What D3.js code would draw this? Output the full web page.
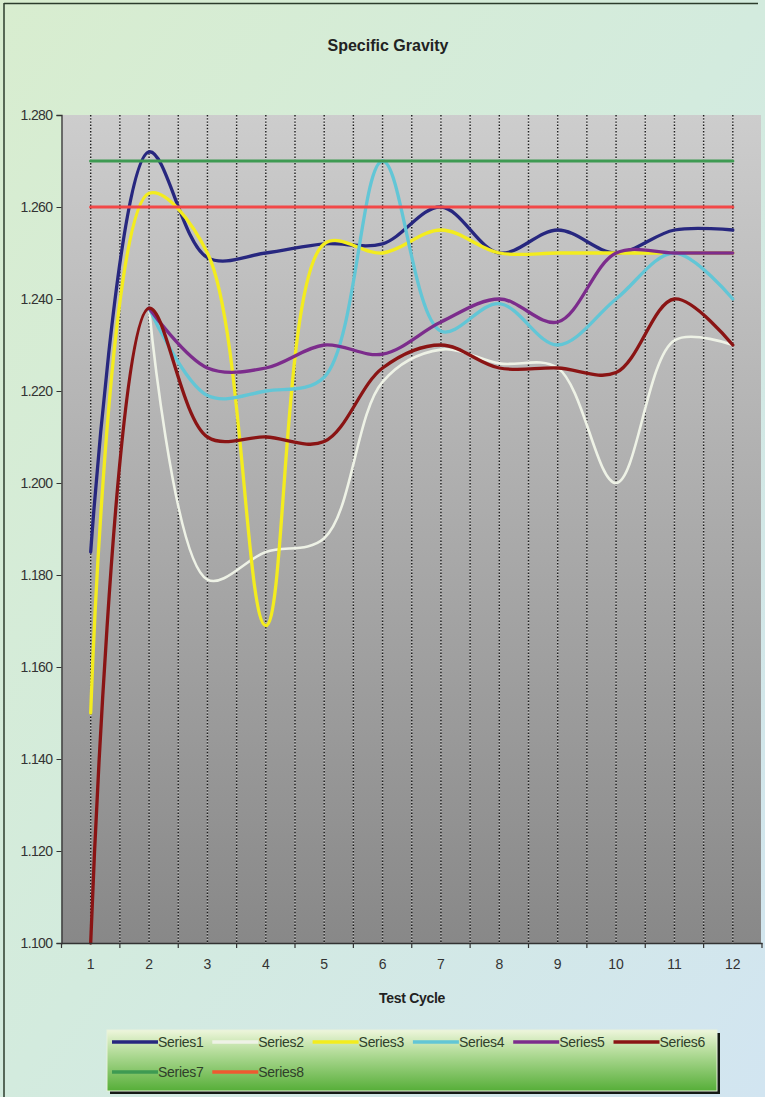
<!DOCTYPE html>
<html>
<head>
<meta charset="utf-8">
<script src="https://cdn.jsdelivr.net/npm/d3@7"></script>
<style>
  html, body { margin: 0; padding: 0; background: #d5ebdc; }
  svg { display: block; }
  text { font-family: "Liberation Sans", Arial, sans-serif; }
</style>
</head>
<body>
<svg id="chart" width="765" height="1097"></svg>
<script>
// ---------------- data ----------------
const categories = ["1","2","3","4","5","6","7","8","9","10","11","12"];
const yTicks = [1.100, 1.120, 1.140, 1.160, 1.180, 1.200, 1.220, 1.240, 1.260, 1.280];
const seriesNames = ["Series1","Series2","Series3","Series4","Series5","Series6","Series7","Series8"];
const series1 = [1.185, 1.272, 1.249, 1.250, 1.252, 1.252, 1.260, 1.250, 1.255, 1.250, 1.255, 1.255];
const series2 = [null, 1.238, 1.179, 1.185, 1.188, 1.222, 1.229, 1.226, 1.225, 1.200, 1.231, 1.230];
const series3 = [1.150, 1.263, 1.250, 1.169, 1.252, 1.250, 1.255, 1.250, 1.250, 1.250, 1.250, 1.250];
const series4 = [null, 1.238, 1.219, 1.220, 1.223, 1.270, 1.233, 1.239, 1.230, 1.240, 1.250, 1.240];
const series5 = [null, 1.238, 1.225, 1.225, 1.230, 1.228, 1.235, 1.240, 1.235, 1.250, 1.250, 1.250];
const series6 = [1.100, 1.238, 1.210, 1.210, 1.209, 1.225, 1.230, 1.225, 1.225, 1.224, 1.240, 1.230];
const series7 = [1.270, 1.270, 1.270, 1.270, 1.270, 1.270, 1.270, 1.270, 1.270, 1.270, 1.270, 1.270];
const series8 = [1.260, 1.260, 1.260, 1.260, 1.260, 1.260, 1.260, 1.260, 1.260, 1.260, 1.260, 1.260];
const allSeries = [series1, series2, series3, series4, series5, series6, series7, series8];
const colors = ["#27277f", "#eef2e6", "#f3ec1e", "#62c6d6", "#7c2c8c", "#8a1414", "#3e9a52", "#f24848"];
const legendColors = ["#27277f", "#eef2e6", "#f3ec1e", "#62c6d6", "#7c2c8c", "#8a1414", "#3e9a52", "#ee5a30"];
const widths = [3.3, 2.6, 3.3, 3.3, 3.3, 3.3, 3.2, 3.2];

// ---------------- layout ----------------
const svg = d3.select("#chart");
const W = 765, H = 1097;
const plot = { left: 61.5, right: 762, top: 115, bottom: 943 };

const defs = svg.append("defs");
const bgGrad = defs.append("linearGradient").attr("id", "bgGrad")
  .attr("x1", "0").attr("y1", "0").attr("x2", "1").attr("y2", "1");
bgGrad.append("stop").attr("offset", "0").attr("stop-color", "#d8edcf");
bgGrad.append("stop").attr("offset", "0.5").attr("stop-color", "#d3ebde");
bgGrad.append("stop").attr("offset", "1").attr("stop-color", "#d2e5f1");

const plotGrad = defs.append("linearGradient").attr("id", "plotGrad")
  .attr("x1", "0").attr("y1", "0").attr("x2", "0").attr("y2", "1");
plotGrad.append("stop").attr("offset", "0").attr("stop-color", "#cdcdcd");
plotGrad.append("stop").attr("offset", "1").attr("stop-color", "#888888");

const legGrad = defs.append("linearGradient").attr("id", "legGrad")
  .attr("x1", "0").attr("y1", "0").attr("x2", "0").attr("y2", "1");
legGrad.append("stop").attr("offset", "0").attr("stop-color", "#eef6dc");
legGrad.append("stop").attr("offset", "0.35").attr("stop-color", "#b6dd9c");
legGrad.append("stop").attr("offset", "1").attr("stop-color", "#56ae38");

// background
svg.append("rect").attr("x", 0).attr("y", 0).attr("width", W).attr("height", H).attr("fill", "url(#bgGrad)");
svg.append("line").attr("x1", 4).attr("x2", 4).attr("y1", 3).attr("y2", H).attr("stroke", "#2c3c2c").attr("stroke-width", 1.5);
svg.append("line").attr("x1", 4).attr("x2", 758).attr("y1", 3.5).attr("y2", 3.5).attr("stroke", "#2c3c2c").attr("stroke-width", 1.5);

// title
svg.append("text").attr("x", 388).attr("y", 51).attr("text-anchor", "middle")
  .attr("font-size", 16).attr("font-weight", "bold").attr("fill", "#222")
  .text("Specific Gravity");

// scales
const x = d3.scaleBand().domain(categories).range([plot.left, plot.right]).paddingInner(0).paddingOuter(0);
const xc = c => x(c) + x.bandwidth() / 2;
const y = d3.scaleLinear().domain([1.100, 1.280]).range([plot.bottom, plot.top]);

// plot background
svg.append("rect").attr("x", plot.left).attr("y", plot.top)
  .attr("width", plot.right - plot.left - 1).attr("height", plot.bottom - plot.top)
  .attr("fill", "url(#plotGrad)");

// dotted vertical gridlines at centers and boundaries
const gridX = [];
categories.forEach((c, i) => {
  gridX.push(xc(c));
  if (i > 0) gridX.push(x(c));
});
const grid = svg.append("g");
grid.selectAll("line.gw").data(gridX).join("line").attr("class", "gw")
  .attr("x1", d => d).attr("x2", d => d).attr("y1", plot.top).attr("y2", plot.bottom)
  .attr("stroke", "#ffffff").attr("stroke-opacity", 0.45).attr("stroke-width", 1.4)
  .attr("stroke-dasharray", "1.4,1.8").attr("stroke-dashoffset", 1.6);
grid.selectAll("line.gd").data(gridX).join("line").attr("class", "gd")
  .attr("x1", d => d).attr("x2", d => d).attr("y1", plot.top).attr("y2", plot.bottom)
  .attr("stroke", "#1c1c1c").attr("stroke-width", 1.4)
  .attr("stroke-dasharray", "1.4,1.8");

// series lines
const line = d3.line()
  .defined(d => d.v !== null)
  .x(d => xc(d.c))
  .y(d => y(d.v))
  .curve(d3.curveCatmullRom.alpha(0.5));

const linesG = svg.append("g");
allSeries.forEach((vals, i) => {
  const pts = vals.map((v, j) => ({ c: categories[j], v: v }));
  linesG.append("path").datum(pts)
    .attr("d", line)
    .attr("fill", "none")
    .attr("stroke", colors[i])
    .attr("stroke-width", widths[i])
    .attr("stroke-linejoin", "round")
    .attr("stroke-linecap", "round");
});

// y axis
const yAxis = d3.axisLeft(y).tickValues(yTicks).tickFormat(d3.format(".3f")).tickSize(5).tickPadding(4);
const yg = svg.append("g").attr("transform", `translate(${plot.left},0)`).call(yAxis);
yg.select(".domain").attr("stroke", "#333").attr("stroke-width", 1.3);
yg.selectAll(".tick line").attr("stroke", "#333");
yg.selectAll(".tick text").attr("font-size", 14).attr("fill", "#333")
  .attr("font-family", "'Liberation Sans', Arial, sans-serif").attr("letter-spacing", "-0.6");

// x axis
const xAxis = d3.axisBottom(x).tickSize(0).tickPadding(16);
const xg = svg.append("g").attr("transform", `translate(0,${plot.bottom})`).call(xAxis);
xg.select(".domain").attr("stroke", "#333").attr("stroke-width", 1.3);
xg.selectAll(".tick text").attr("font-size", 14).attr("fill", "#333")
  .attr("font-family", "'Liberation Sans', Arial, sans-serif");
// boundary ticks
const bounds = categories.map(c => x(c)).concat([plot.right]);
xg.selectAll("line.bt").data(bounds).join("line").attr("class", "bt")
  .attr("x1", d => d).attr("x2", d => d).attr("y1", 0).attr("y2", 5)
  .attr("stroke", "#333").attr("stroke-width", 1.2);

svg.append("text").attr("x", 412).attr("y", 1003).attr("text-anchor", "middle")
  .attr("font-size", 14).attr("font-weight", "bold").attr("fill", "#222").attr("letter-spacing", "-0.3")
  .text("Test Cycle");

// legend
const leg = { x: 107, y: 1030, w: 610, h: 61 };
svg.append("rect").attr("x", leg.x + 3).attr("y", leg.y + 3).attr("width", leg.w).attr("height", leg.h)
  .attr("fill", "#151a15");
svg.append("rect").attr("x", leg.x).attr("y", leg.y).attr("width", leg.w).attr("height", leg.h)
  .attr("fill", "url(#legGrad)").attr("stroke", "#e8f2dc").attr("stroke-width", 1);

const legItems = seriesNames.map((n, i) => ({ name: n, i: i, row: i < 6 ? 0 : 1, col: i < 6 ? i : i - 6 }));
const lg = svg.append("g");
const items = lg.selectAll("g").data(legItems).join("g")
  .attr("transform", d => `translate(${112 + d.col * 100.3},${d.row === 0 ? 1042 : 1072})`);
items.append("line").attr("x1", 0).attr("x2", 46).attr("y1", 0).attr("y2", 0)
  .attr("stroke", d => legendColors[d.i]).attr("stroke-width", 3.5);
items.append("text").attr("x", 46).attr("y", 5).attr("font-size", 14).attr("fill", "#2f3f2a")
  .attr("letter-spacing", "-0.3")
  .text(d => d.name);
</script>
</body>
</html>
